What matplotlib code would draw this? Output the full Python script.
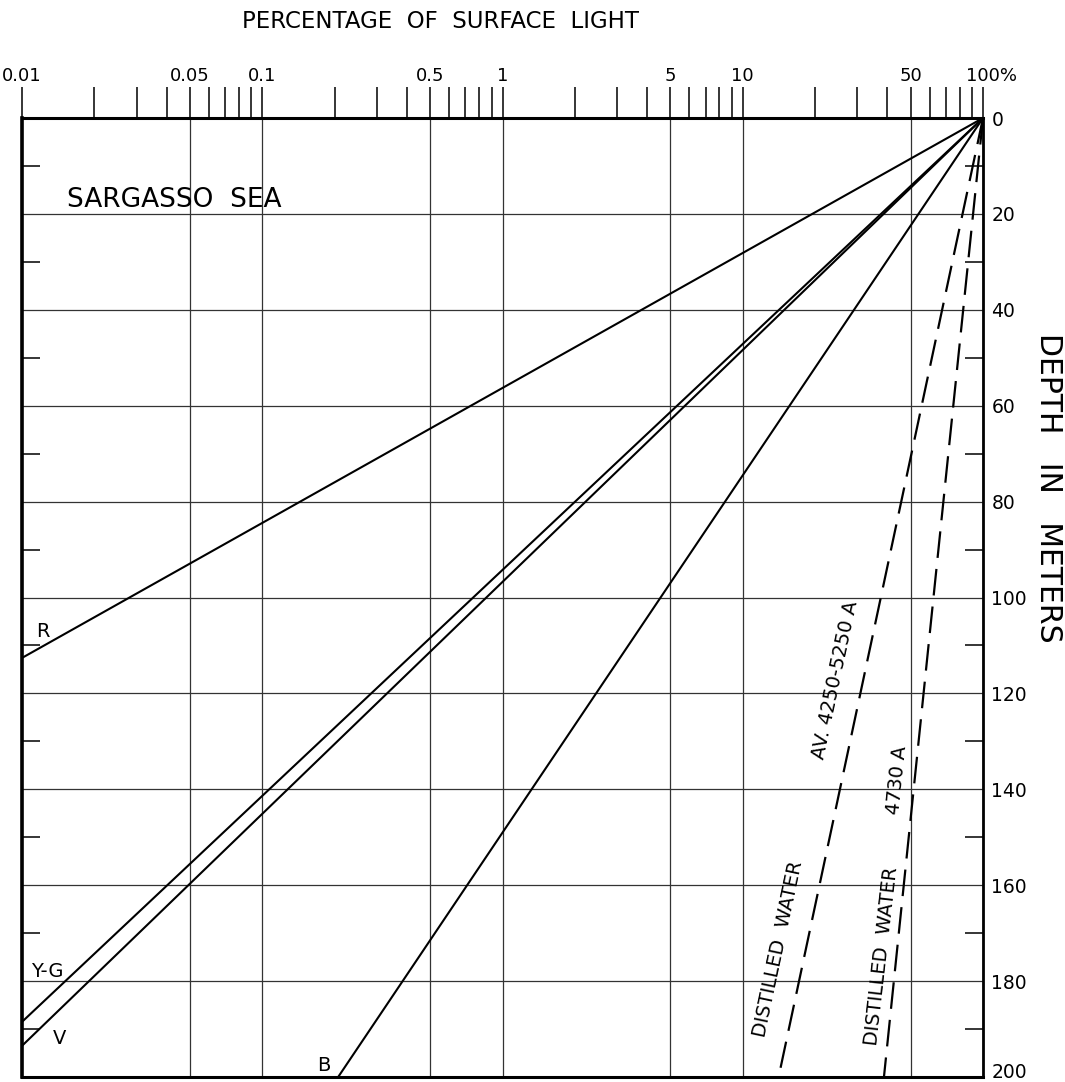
import matplotlib
matplotlib.use('Agg')
import matplotlib.pyplot as plt
import matplotlib.transforms as mtransforms
from matplotlib.ticker import NullFormatter

# percentage of surface light (top axis, log) and depth (right axis)
major_pct = [0.01, 0.05, 0.1, 0.5, 1, 5, 10, 50, 100]
major_pct_labels = ['0.01', '0.05', '0.1', '0.5', '1', '5', '10', '50', '100%']
minor_pct = [0.02, 0.03, 0.04, 0.06, 0.07, 0.08, 0.09,
             0.2, 0.3, 0.4, 0.6, 0.7, 0.8, 0.9,
             2, 3, 4, 6, 7, 8, 9,
             20, 30, 40, 60, 70, 80, 90]
depth_ticks = [0, 20, 40, 60, 80, 100, 120, 140, 160, 180, 200]
depth_minor = [10, 30, 50, 70, 90, 110, 130, 150, 170, 190]

# Sargasso Sea lines: start at 100 % / 0 m, end points
sea_names = ['R', 'Y-G', 'V', 'B']
sea_end_pct = [0.01, 0.01, 0.01, 0.207]
sea_end_depth = [112.6, 188.5, 193.5, 200]

# distilled water (dashed)
dw_names = ['AV. 4250-5250 A', '4730 A']
dw_end_pct = [14.1, 38.7]
dw_end_depth = [200, 200]

plt.rcParams['font.family'] = 'DejaVu Sans'

fig = plt.figure(figsize=(10.65, 10.82), dpi=100)
ax = fig.add_axes([22 / 1065, 1 - 1077 / 1082, 961 / 1065, 959 / 1082])
ax.set_xscale('log')
ax.set_xlim(0.01, 100)
ax.set_ylim(200, 0)

for p, d in zip(sea_end_pct, sea_end_depth):
    ax.plot([100, p], [0, d], color='black', lw=1.5, solid_capstyle='butt')
for p, d in zip(dw_end_pct, dw_end_depth):
    ax.plot([100, p], [0, d], color='black', lw=1.6, linestyle=(0, (12, 5)))

# ticks / grid
ax.xaxis.tick_top()
ax.set_xticks(major_pct, labels=major_pct_labels)
ax.set_xticks(minor_pct, minor=True)
ax.xaxis.set_minor_formatter(NullFormatter())
ax.tick_params(axis='x', which='both', direction='out', length=22, width=1.1,
               pad=2, labelsize=13)
lab = ax.get_xticklabels()[-1]
lab.set_horizontalalignment('left')
lab.set_transform(lab.get_transform() +
                  mtransforms.ScaledTranslation(-0.17, 0, fig.dpi_scale_trans))

ax.yaxis.tick_right()
ax.set_yticks(depth_ticks)
ax.set_yticks(depth_minor, minor=True)
ax.tick_params(axis='y', which='major', length=0, pad=6, labelsize=13.5)
ax.tick_params(axis='y', which='minor', direction='in', length=13, width=1.1,
               left=True, right=True)
lab = ax.get_yticklabels()[-1]
lab.set_transform(lab.get_transform() +
                  mtransforms.ScaledTranslation(0, 0.06, fig.dpi_scale_trans))

ax.grid(True, which='major', color='0.2', lw=0.9)
for side, w in [('left', 2.6), ('top', 2.2), ('right', 2.0), ('bottom', 2.2)]:
    ax.spines[side].set_linewidth(w)

# labels
fig.text(440 / 1065, 1 - 22 / 1082, 'PERCENTAGE  OF  SURFACE  LIGHT',
         ha='center', va='center', fontsize=16.5)
fig.text(1048 / 1065, 1 - 488 / 1082, 'DEPTH   IN   METERS', rotation=-90,
         ha='center', va='center', fontsize=21.5)
ax.text(0.0154, 18.6, 'SARGASSO  SEA', fontsize=19, va='baseline')

sea_label_pos = [(0.01144, 108.2), (0.0109, 179.2), (0.01346, 193.1), (0.1695, 198.7)]
for name, (x, y) in zip(sea_names, sea_label_pos):
    ax.text(x, y, name, fontsize=14, va='baseline')

ax.text(14.0, 173.3, 'DISTILLED  WATER', rotation=78, rotation_mode='anchor',
        ha='center', va='center', fontsize=14)
ax.text(38.0, 174.8, 'DISTILLED  WATER', rotation=83.5, rotation_mode='anchor',
        ha='center', va='center', fontsize=14)
ax.text(24.4, 117.2, dw_names[0], rotation=78, rotation_mode='anchor',
        ha='center', va='center', fontsize=14)
ax.text(43.8, 138.0, dw_names[1], rotation=84, rotation_mode='anchor',
        ha='center', va='center', fontsize=14)

fig.savefig('out.png', dpi=100)
